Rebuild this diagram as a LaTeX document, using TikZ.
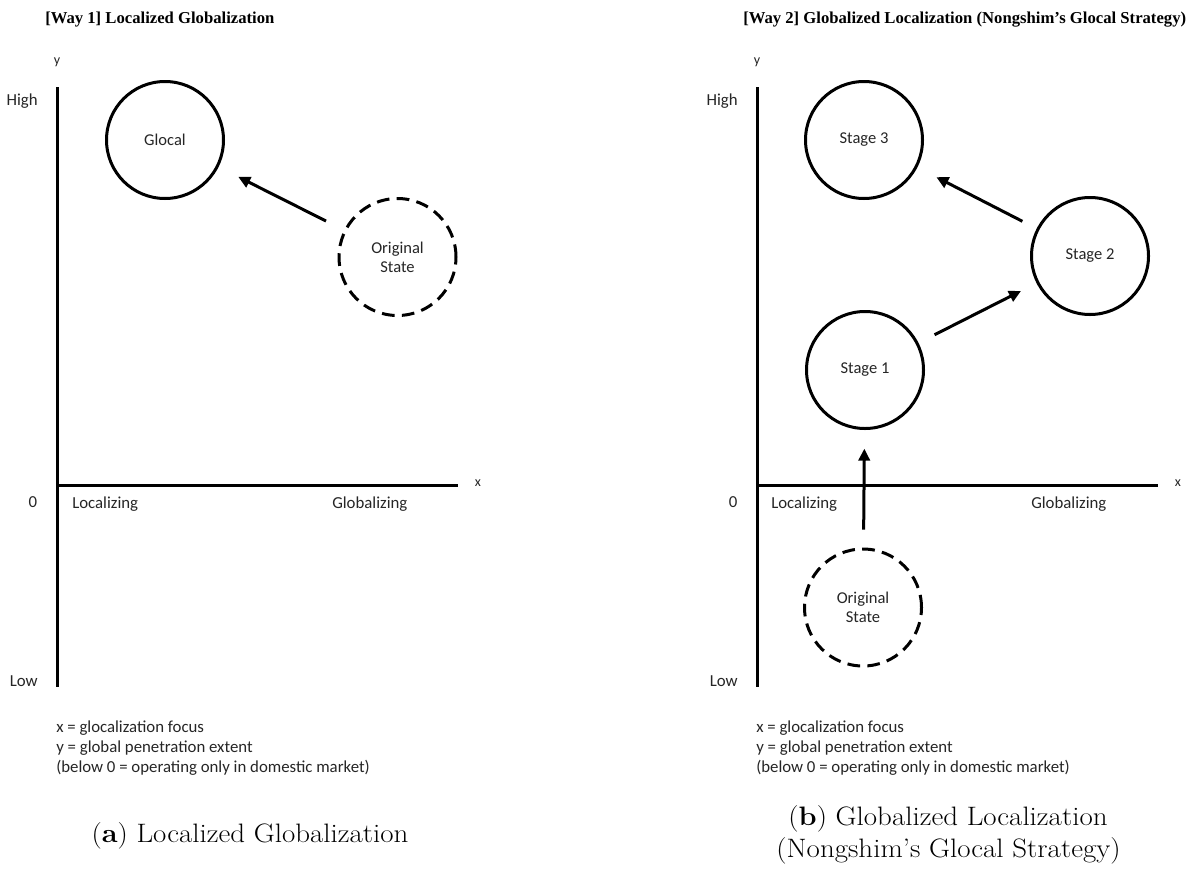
\documentclass[tikz,border=0pt]{standalone}
\usepackage{fontspec}
\newfontfamily\calib{Carlito}
\newfontfamily\timesb{Liberation Serif}
\usetikzlibrary{arrows.meta}
\tikzset{
  statebox/.style={circle, draw, line width=2.25pt, minimum size=87.75pt, inner sep=0pt,
    font=\calib\fontsize{12.4}{14.5}\selectfont, text=black!85, align=center},
  dashedbox/.style={statebox, dash pattern=on 9.5pt off 5.5pt},
  arr/.style={line width=2.25pt, -{Triangle[length=9pt,width=8.5pt]}},
  axisline/.style={line width=2.6pt},
  lbl/.style={inner sep=0pt, font=\calib\fontsize{12.6}{15}\selectfont, text=black!85},
  small/.style={inner sep=0pt, font=\calib\fontsize{10.5}{12}\selectfont, text=black!85},
  titlebox/.style={inner sep=0pt, anchor=base west, font=\timesb\bfseries\fontsize{12.5}{15}\selectfont},
  capbox/.style={inner sep=0pt, anchor=base, font=\fontsize{20}{24}\selectfont},
}
\newcommand{\capstretch}[1]{\scalebox{1.085}[1]{#1}}
\begin{document}
\begin{tikzpicture}[x=0.75pt,y=-0.75pt]
\useasboundingbox (0,0) rectangle (1196,868);
\fill[white] (0,0) rectangle (1196,868);

% ---------- Panel a ----------
\node[titlebox] (ta) at (45,23) {[Way 1] Localized Globalization};
\coordinate (ayt) at (57.5,87);
\coordinate (ayb) at (57.5,687);
\coordinate (axo) at (57.5,485.5);
\coordinate (axr) at (458,485.5);
\draw[axisline] (ayt) -- (ayb);
\draw[axisline] (axo) -- (axr);
\node[small] (ya) at (57,62) {y};
\node[small] (xa) at (478,483) {x};
\node[lbl, anchor=base east] (higha) at (38,105) {High};
\node[lbl, anchor=base east] (lowa) at (38,686) {Low};
\node[lbl, anchor=base] (zeroa) at (33,507) {0};
\node[lbl, anchor=base west] (loca) at (72,508) {Localizing};
\node[lbl, anchor=base west] (globa) at (332,508) {Globalizing};

\node[statebox] (glocal) at (165,140) {Glocal};
\node[dashedbox] (origa) at (397.5,257) {Original\\State};
\draw[arr, shorten <=15pt, shorten >=16.5pt] (origa) -- (glocal);

\node[lbl, anchor=base west] (la1) at (56,732) {x = glocalization focus};
\node[lbl, anchor=base west] (la2) at (56,752) {y = global penetration extent};
\node[lbl, anchor=base west] (la3) at (56,772) {(below 0 = operating only in domestic market)};

\node[capbox] (capa) at (250,842) {\capstretch{(\textbf{a}) Localized Globalization}};

% ---------- Panel b ----------
\node[titlebox] (tb) at (743,23) {[Way 2] Globalized Localization (Nongshim’s Glocal Strategy)};
\coordinate (byt) at (757.5,87);
\coordinate (byb) at (757.5,687);
\coordinate (bxo) at (757.5,485.5);
\coordinate (bxr) at (1158,485.5);
\draw[axisline] (byt) -- (byb);
\draw[axisline] (bxo) -- (bxr);
\node[small] (yb) at (757,62) {y};
\node[small] (xb) at (1178,483) {x};
\node[lbl, anchor=base east] (highb) at (738,105) {High};
\node[lbl, anchor=base east] (lowb) at (738,686) {Low};
\node[lbl, anchor=base] (zerob) at (733,507) {0};
\node[lbl, anchor=base west] (locb) at (771,508) {Localizing};
\node[lbl, anchor=base west] (globb) at (1031,508) {Globalizing};

\node[statebox] (s3) at (864,140) {Stage 3};
\node[statebox] (s2) at (1090,256) {Stage 2};
\node[statebox] (s1) at (865,370) {Stage 1};
\node[dashedbox] (origb) at (863,607.5) {Original\\State};
\draw[arr, shorten <=13.5pt, shorten >=14pt] (origb) -- (s1);
\draw[arr, shorten <=13.5pt, shorten >=13pt] (s1) -- (s2);
\draw[arr, shorten <=12pt, shorten >=16pt] (s2) -- (s3);

\node[lbl, anchor=base west] (lb1) at (756,732) {x = glocalization focus};
\node[lbl, anchor=base west] (lb2) at (756,752) {y = global penetration extent};
\node[lbl, anchor=base west] (lb3) at (756,772) {(below 0 = operating only in domestic market)};

\node[capbox] (capb1) at (948,825) {\capstretch{(\textbf{b}) Globalized Localization}};
\node[capbox] (capb2) at (948.5,857) {\capstretch{(Nongshim’s Glocal Strategy)}};
\end{tikzpicture}
\end{document}
